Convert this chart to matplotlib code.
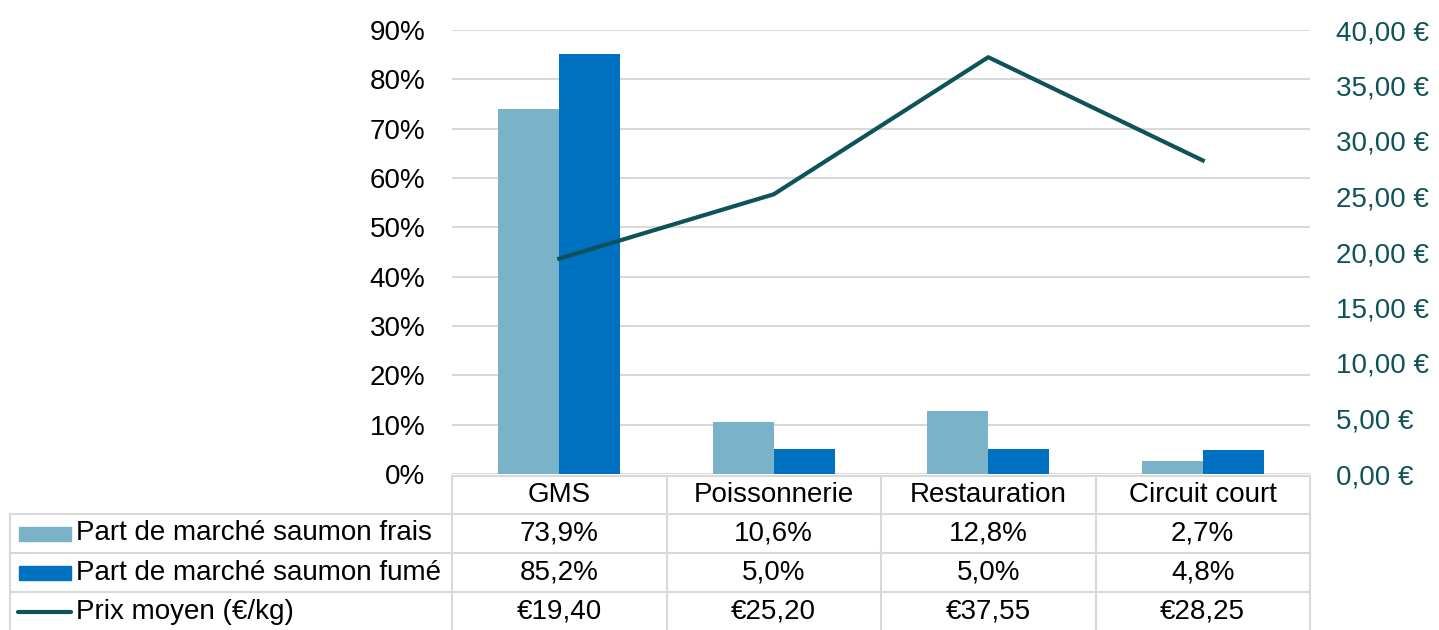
import matplotlib
matplotlib.use("Agg")
import matplotlib.pyplot as plt
from matplotlib.lines import Line2D
from matplotlib.patches import Rectangle
from matplotlib.ticker import FuncFormatter

plt.rcParams["font.family"] = ["Liberation Sans", "DejaVu Sans"]

# ─── Data ────────────────────────────────────────────────────────────────────
categories = ["GMS", "Poissonnerie", "Restauration", "Circuit court"]
part_frais = [73.9, 10.6, 12.8, 2.7]      # %
part_fume = [85.2, 5.0, 5.0, 4.8]         # %
prix_moyen = [19.40, 25.20, 37.55, 28.25]  # €/kg

series_names = ["Part de marché saumon frais",
                "Part de marché saumon fumé",
                "Prix moyen (€/kg)"]

C_FRAIS = "#7AB3C8"
C_FUME = "#0070C0"
C_PRIX = "#0E525A"
C_GRID = "#D9D9D9"
FS = 20

W, H = 1439, 630
fig = plt.figure(figsize=(W / 100, H / 100), dpi=100)


def fx(x):
    return x / W


def fy(y):
    return 1 - y / H


# plot area in pixels
L, R, T, B = 452, 1310, 30, 474
ax = fig.add_axes([fx(L), fy(B), fx(R) - fx(L), fy(T) - fy(B)])

n = len(categories)
xs = range(n)
bw = 0.285
ax.bar([x - bw / 2 for x in xs], part_frais, bw, color=C_FRAIS, zorder=2)
ax.bar([x + bw / 2 for x in xs], part_fume, bw, color=C_FUME, zorder=2)
ax.set_xlim(-0.5, n - 0.5)
ax.set_ylim(0, 90)
ax.set_yticks(range(0, 91, 10))
ax.yaxis.set_major_formatter(FuncFormatter(lambda v, _: f"{v:.0f}%"))
ax.grid(axis="y", color=C_GRID, lw=1.5, zorder=0)
ax.set_xticks([])
ax.tick_params(axis="y", length=0, labelsize=FS, pad=19)
for s in ax.spines.values():
    s.set_visible(False)

ax2 = ax.twinx()
ax2.plot(list(xs), prix_moyen, color=C_PRIX, lw=3, zorder=3)
ax2.set_ylim(0, 40)
ax2.set_yticks(range(0, 41, 5))
ax2.yaxis.set_major_formatter(
    FuncFormatter(lambda v, _: f"{v:.2f}".replace(".", ",") + " €"))
ax2.tick_params(axis="y", length=0, labelsize=FS, labelcolor=C_PRIX, pad=19)
for s in ax2.spines.values():
    s.set_visible(False)

# ─── Data table under the chart ──────────────────────────────────────────────
col_x = [L + (R - L) * i / n for i in range(n + 1)]
row_y = [476, 514, 553, 592, 632]
tbl_left = 10


def hline(y, x0, x1):
    fig.add_artist(Line2D([fx(x0), fx(x1)], [fy(y), fy(y)],
                          color=C_GRID, lw=1.5))


def vline(x, y0, y1):
    fig.add_artist(Line2D([fx(x), fx(x)], [fy(y0), fy(y1)],
                          color=C_GRID, lw=1.5))


hline(row_y[0], L, R)
for y in row_y[1:]:
    hline(y, tbl_left, R)
vline(tbl_left, row_y[1], row_y[-1])
for x in col_x:
    vline(x, row_y[0], row_y[-1])

for i, cat in enumerate(categories):
    cx = (col_x[i] + col_x[i + 1]) / 2
    fig.text(fx(cx), fy((row_y[0] + row_y[1]) / 2), cat,
             ha="center", va="center", fontsize=FS)

rows = [
    [f"{v:.1f}%".replace(".", ",") for v in part_frais],
    [f"{v:.1f}%".replace(".", ",") for v in part_fume],
    [f"€{v:.2f}".replace(".", ",") for v in prix_moyen],
]
for r, vals in enumerate(rows):
    cy = (row_y[r + 1] + row_y[r + 2]) / 2
    for i, v in enumerate(vals):
        cx = (col_x[i] + col_x[i + 1]) / 2
        fig.text(fx(cx), fy(cy), v, ha="center", va="center", fontsize=FS)
    fig.text(fx(76), fy(cy), series_names[r], ha="left", va="center",
             fontsize=FS)

# legend keys inside the table
for r, col in enumerate([C_FRAIS, C_FUME]):
    cy = (row_y[r + 1] + row_y[r + 2]) / 2
    fig.add_artist(Rectangle((fx(19), fy(cy + 7)), fx(71) - fx(19),
                             fy(cy - 7) - fy(cy + 7), color=col))
cy = (row_y[3] + row_y[4]) / 2
fig.add_artist(Line2D([fx(18), fx(71)], [fy(cy), fy(cy)], color=C_PRIX,
                      lw=3, solid_capstyle="round"))

fig.savefig("out.png", dpi=100)
